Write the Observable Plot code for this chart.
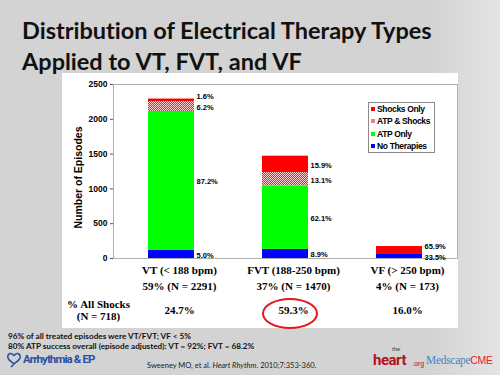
<!DOCTYPE html>
<html><head><meta charset="utf-8">
<script src="https://cdn.jsdelivr.net/npm/d3@7"></script>
<script src="https://cdn.jsdelivr.net/npm/@observablehq/plot@0.6"></script>
<style>
html,body{margin:0;padding:0}
body{width:500px;height:375px;overflow:hidden;position:relative;font-variant-ligatures:none;
 background:linear-gradient(to right,#d3d3d3 0%,#d3d3d3 86%,#e4e4e4 100%);font-family:Arial,"Liberation Sans",sans-serif}
.abs{position:absolute;white-space:nowrap;line-height:1}
#title{left:22px;top:15px;font-family:Lato,"Open Sans",sans-serif;font-weight:bold;font-size:23.5px;line-height:31px;color:#111;z-index:2}
#panel{left:62px;top:73px;width:396px;height:255px;background:#fff}
#chart{left:62px;top:73px}
#legend{left:368px;top:102px;width:65px;height:49px;border:1px solid #8a8a8a;background:#fff;font-size:8.5px;font-weight:bold;letter-spacing:-0.35px}
.li{position:absolute;left:2px;height:12px;line-height:12px}
.sw{display:inline-block;width:4px;height:4px;margin-right:2px;vertical-align:1px}
#ellipse{left:262px;top:298px;width:52px;height:27px;border:2px solid #e3161b;border-radius:50%}
.note{font-family:Lato,sans-serif;font-weight:bold;font-size:8.2px;color:#111}
</style></head><body>
<div id="panel" class="abs"></div>
<div id="title" class="abs">Distribution of Electrical Therapy Types<br>Applied to VT, FVT, and VF</div>
<div id="chart" class="abs"></div>
<div id="legend" class="abs"></div>
<div id="ellipse" class="abs"></div>
<div class="abs note" style="left:8px;top:332px">96% of all treated episodes were VT/FVT; VF &lt; 5%</div>
<div class="abs note" style="left:8px;top:342px">80% ATP success overall (episode adjusted): VT = 92%; FVT = 68.2%</div>
<div class="abs" style="left:7px;top:352px">
 <svg width="14" height="16" viewBox="0 0 14 16"><path d="M7 4 C5 0,0 1,1 6 C2 9,5 10,7 12 M7 4 C9 0,14 1,13 6 C12 9,9 10,7 12 M7 12 L4 15" fill="none" stroke="#2c4fa3" stroke-width="1.6"/></svg>
</div>
<div class="abs" style="left:23px;top:354px;font-family:Roboto,sans-serif;font-weight:bold;font-size:11.5px;letter-spacing:-0.9px;color:#2c4fa3">Arrhythmia &amp; EP</div>
<div class="abs" style="left:147px;top:362px;font-family:Lato,sans-serif;font-size:7.5px;color:#222">Sweeney MO, et al. <i>Heart Rhythm</i>. 2010;7:353-360.</div>
<div class="abs" style="left:392px;top:346px;font-size:6px;color:#333">the</div>
<div class="abs" style="left:373px;top:353px;font-family:Roboto,sans-serif;font-weight:bold;font-size:15px;letter-spacing:-0.5px;color:#b3121b">heart</div>
<div class="abs" style="left:412px;top:360px;font-size:7px;color:#b3121b">.org</div>
<div class="abs" style="left:426px;top:355px;font-family:'Liberation Serif',serif;font-size:11.5px;letter-spacing:-0.3px;color:#3a86c8">Medscape<span style="font-family:Arial,sans-serif;color:#e3262b;font-size:10.5px">CME</span></div>
<script>
// ---- data ----
const categories = ["VT (< 188 bpm)", "FVT (188-250 bpm)", "VF (> 250 bpm)"];
const shares = ["59%", "37%", "4%"];
const totals = [2291, 1470, 173];
const allShocks = ["24.7%", "59.3%", "16.0%"];
const types = ["No Therapies", "ATP Only", "ATP & Shocks", "Shocks Only"];
const pctNoTherapies = [5.0, 8.9, 33.5];
const pctATPOnly = [87.2, 62.1, 0];
const pctATPShocks = [6.2, 13.1, 0];
const pctShocksOnly = [1.6, 15.9, 65.9];
const yTicks = [0, 500, 1000, 1500, 2000, 2500];
const typeColors = ["#0000ff", "#00ff00", "url(#hatch)", "#ff0000"];

// ---- build rows ----
const pcts = [pctNoTherapies, pctATPOnly, pctATPShocks, pctShocksOnly];
const rows = [];
categories.forEach((cat, i) => {
  let base = 0;
  types.forEach((type, t) => {
    const pct = pcts[t][i];
    const count = totals[i] * pct / 100;
    rows.push({cat, type, pct, count, mid: base + count / 2});
    base += count;
  });
});
const labels = rows.filter(d => d.pct > 0);
const small = d => d.type === "Shocks Only" && d.count < 120;
const catRows = categories.map((cat, i) => ({cat, share: `${shares[i]} (N = ${totals[i]})`, shock: allShocks[i]}));

const serif = "'Liberation Serif','Times New Roman',serif";
const bold = {fontWeight: "bold"};
const chart = Plot.plot({
  width: 396, height: 255,
  marginLeft: 51, marginRight: 1, marginTop: 11, marginBottom: 70,
  style: {background: "transparent", fontFamily: "Arial, 'Liberation Sans', sans-serif", overflow: "visible", color: "#000"},
  x: {domain: categories, paddingInner: 0.6, paddingOuter: 0.3, axis: null},
  y: {domain: [0, 2500]},
  color: {domain: types, range: typeColors},
  marks: [
    Plot.frame({stroke: "#b0b0b0"}),
    Plot.ruleX([0], {frameAnchor: "left", stroke: "#888"}),
    Plot.axisY({ticks: yTicks, tickSize: 3, tickPadding: 3, fontSize: 8.5, fontWeight: "bold", label: null, tickFormat: d => String(d), stroke: "#555"}),
    Plot.text(["Number of Episodes"], {frameAnchor: "left", textAnchor: "middle", rotate: -90, dx: -35, dy: 6, fontSize: 10.5, ...bold}),
    Plot.barY(rows, Plot.stackY({x: "cat", y: "count", fill: "type", order: types})),
    Plot.text(labels.filter(d => !small(d)), {x: "cat", y: "mid", text: d => d.pct.toFixed(1) + "%", textAnchor: "start", dx: 25, dy: 1, fontSize: 7.5, ...bold}),
    Plot.text(labels.filter(small), {x: "cat", y: "mid", text: d => d.pct.toFixed(1) + "%", textAnchor: "start", dx: 25, dy: -3.5, fontSize: 7.5, ...bold}),
    Plot.text(catRows, {x: "cat", text: "cat", frameAnchor: "bottom", dx: 8, dy: 15, fontFamily: serif, fontSize: 11, ...bold}),
    Plot.text(catRows, {x: "cat", text: "share", frameAnchor: "bottom", dx: 8, dy: 31, fontFamily: serif, fontSize: 11, ...bold}),
    Plot.text(catRows, {x: "cat", text: "shock", frameAnchor: "bottom", dx: 8, dy: 55, fontFamily: serif, fontSize: 11, ...bold}),
    Plot.text(["% All Shocks"], {frameAnchor: "bottom-left", textAnchor: "middle", dx: -15, dy: 49, fontFamily: serif, fontSize: 11, ...bold}),
    Plot.text(["(N = 718)"], {frameAnchor: "bottom-left", textAnchor: "middle", dx: -15, dy: 61, fontFamily: serif, fontSize: 11, ...bold})
  ]
});
// hatch pattern
const ns = "http://www.w3.org/2000/svg";
const defs = document.createElementNS(ns, "defs");
defs.innerHTML = '<pattern id="hatch" width="2" height="2" patternUnits="userSpaceOnUse"><rect width="2" height="2" fill="#ffd0d0"/><rect width="1" height="1" fill="#ee2222"/><rect x="1" y="1" width="1" height="1" fill="#ee2222"/></pattern>';
chart.insertBefore(defs, chart.firstChild);
document.getElementById("chart").appendChild(chart);

// legend (top to bottom: reverse stacking order)
const legend = document.getElementById("legend");
[...types].reverse().forEach((t, k) => {
  const el = document.createElement("div");
  el.className = "li";
  el.style.top = (k * 12.3) + "px";
  const sw = document.createElement("span");
  sw.className = "sw";
  const c = typeColors[types.indexOf(t)];
  sw.style.background = c.startsWith("url") ? "#f08080" : c;
  el.appendChild(sw);
  el.appendChild(document.createTextNode(t));
  legend.appendChild(el);
});
</script>
</body></html>
